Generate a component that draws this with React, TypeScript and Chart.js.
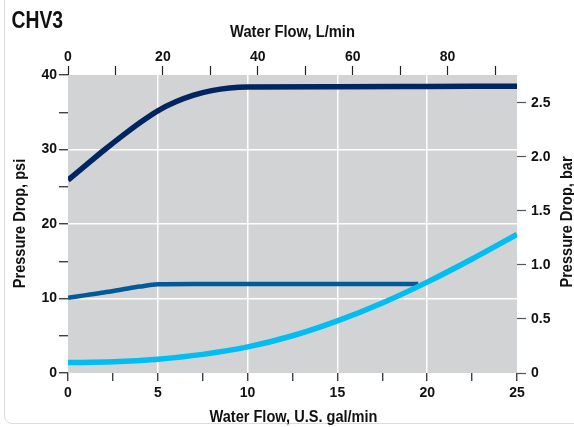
import React, { useEffect, useRef } from "react";
import { Chart, registerables } from "chart.js";

Chart.register(...registerables);

const chartTitle = "CHV3";
const xTitleBottom = "Water Flow, U.S. gal/min";
const xTitleTop = "Water Flow, L/min";
const yTitleLeft = "Pressure Drop, psi";
const yTitleRight = "Pressure Drop, bar";

// gal/min -> psi
const darkX = [0, 1, 2, 3, 4, 5, 6, 7, 8, 9, 10, 15, 20, 25];
const darkY = [25.9, 27.9, 29.9, 31.8, 33.6, 35.2, 36.4, 37.3, 37.9, 38.25, 38.38, 38.42, 38.46, 38.5];

const midX = [0, 1, 2, 3, 4, 5, 7, 10, 15, 19.5];
const midY = [10.1, 10.45, 10.8, 11.2, 11.6, 11.9, 11.95, 11.95, 11.95, 11.95];

const cyanX = [0, 2.5, 5, 7.5, 10, 12.5, 15, 17.5, 20, 22.5, 25];
const cyanY = [1.4, 1.5, 1.85, 2.5, 3.5, 5.0, 7.0, 9.4, 12.2, 15.3, 18.6];

const GAL_TO_L = 3.78541;
const PSI_PER_BAR = 14.5038;
const X_MAX = 25;
const Y_MAX = 40;

const TITLE_FONT = '"Liberation Sans", Arial, sans-serif';
const TICK_FONT = '"Liberation Sans", Arial, sans-serif';

const toPts = (xs: number[], ys: number[]) => xs.map((x, i) => ({ x, y: ys[i] }));

export default function App() {
  const ref = useRef<HTMLCanvasElement | null>(null);

  useEffect(() => {
    if (!ref.current) return;
    const bgPlugin = {
      id: "bg",
      beforeDraw(chart: any) {
        const { ctx, chartArea: a } = chart;
        ctx.save();
        ctx.fillStyle = "#d2d3d5";
        ctx.fillRect(a.left, a.top, a.right - a.left, a.bottom - a.top);
        ctx.restore();
      },
    };
    const drawNarrow = (ctx: any, text: string, x: number, y: number, rot: number, size: number, sx: number) => {
      ctx.save();
      ctx.translate(x, y);
      ctx.rotate(rot);
      ctx.scale(sx, 1);
      ctx.font = `bold ${size}px ${TITLE_FONT}`;
      ctx.fillText(text, 0, 0);
      ctx.restore();
    };
    const textPlugin = {
      id: "texts",
      afterDraw(chart: any) {
        const { ctx } = chart;
        ctx.save();
        ctx.fillStyle = "#111";
        ctx.textBaseline = "alphabetic";
        ctx.textAlign = "left";
        drawNarrow(ctx, chartTitle, 11.5, 28.3, 0, 23, 0.84);
        ctx.textAlign = "center";
        drawNarrow(ctx, xTitleTop, 292.5, 36.7, 0, 16, 0.92);
        drawNarrow(ctx, xTitleBottom, 293.5, 421.7, 0, 16, 0.91);
        drawNarrow(ctx, yTitleLeft, 25, 223.5, -Math.PI / 2, 16, 0.91);
        drawNarrow(ctx, yTitleRight, 571.5, 222, -Math.PI / 2, 16, 0.91);
        ctx.restore();
      },
    };
    const tickFont = { family: TICK_FONT, size: 14, weight: "bold" as const };
    const chart = new Chart(ref.current, {
      type: "line",
      data: {
        datasets: [
          {
            data: toPts(cyanX, cyanY),
            borderColor: "#00bdf2",
            borderWidth: 5.5,
            pointRadius: 0,
            cubicInterpolationMode: "monotone",
            xAxisID: "x",
            yAxisID: "y",
          },
          {
            data: toPts(midX, midY),
            borderColor: "#035a98",
            borderWidth: 4.5,
            pointRadius: 0,
            cubicInterpolationMode: "monotone",
            xAxisID: "x",
            yAxisID: "y",
          },
          {
            data: toPts(darkX, darkY),
            borderColor: "#002560",
            borderWidth: 5.5,
            pointRadius: 0,
            cubicInterpolationMode: "monotone",
            xAxisID: "x",
            yAxisID: "y",
          },
        ],
      },
      options: {
        animation: false,
        responsive: false,
        layout: { padding: 0 },
        plugins: { legend: { display: false }, tooltip: { enabled: false }, title: { display: false } },
        scales: {
          x: {
            type: "linear",
            position: "bottom",
            min: 0,
            max: X_MAX,
            border: { display: false },
            grid: {
              color: (c: any) => {
                const v = c.tick ? c.tick.value : 0;
                return v > 0 && v < X_MAX && Math.abs(v % 5) < 1e-6 ? "#ffffff" : "rgba(0,0,0,0)";
              },
              lineWidth: 1.5,
              tickColor: "#222",
              tickLength: 8,
              tickWidth: 1.2,
            },
            ticks: {
              stepSize: 2.5,
              autoSkip: false,
              maxRotation: 0,
              includeBounds: false,
              padding: 4,
              color: "#111",
              font: tickFont,
              callback: (v: any) => (Math.abs(Number(v) % 5) < 1e-6 ? String(v) : ""),
            },
            afterFit: (s: any) => {
              s.height = 54;
            },
          },
          xTop: {
            type: "linear",
            position: "top",
            min: 0,
            max: X_MAX * GAL_TO_L,
            border: { display: false },
            grid: { drawOnChartArea: false, tickColor: "#222", tickLength: 9, tickWidth: 1.2 },
            ticks: {
              stepSize: 10,
              autoSkip: false,
              maxRotation: 0,
              includeBounds: false,
              padding: 0,
              color: "#111",
              font: tickFont,
              callback: (v: any) => (Math.round(Number(v)) % 20 === 0 ? String(Math.round(Number(v))) : ""),
            },
            afterFit: (s: any) => {
              s.height = 75;
            },
          },
          y: {
            type: "linear",
            position: "left",
            min: 0,
            max: Y_MAX,
            border: { display: false },
            grid: {
              color: (c: any) => {
                const v = c.tick ? c.tick.value : 0;
                return v > 0 && v < Y_MAX && v % 10 === 0 ? "#ffffff" : "rgba(0,0,0,0)";
              },
              lineWidth: 1.5,
              tickColor: "#222",
              tickLength: 9,
              tickWidth: 1.2,
            },
            ticks: {
              stepSize: 5,
              autoSkip: false,
              includeBounds: false,
              padding: 2,
              color: "#111",
              font: tickFont,
              callback: (v: any) => (Number(v) % 10 === 0 ? String(v) : ""),
            },
            afterFit: (s: any) => {
              s.width = 68;
            },
          },
          yRight: {
            type: "linear",
            position: "right",
            min: 0,
            max: Y_MAX / PSI_PER_BAR,
            border: { display: false },
            grid: { drawOnChartArea: false, tickColor: "#555", tickLength: 9, tickWidth: 1.2 },
            ticks: {
              stepSize: 0.5,
              autoSkip: false,
              includeBounds: false,
              padding: 5,
              color: "#111",
              font: tickFont,
              callback: (v: any) => (Number(v) === 0 ? "0" : Number(v).toFixed(1)),
            },
            afterFit: (s: any) => {
              s.width = 57;
            },
          },
        },
      } as any,
      plugins: [bgPlugin, textPlugin],
    });
    return () => chart.destroy();
  }, []);

  return (
    <div style={{ position: "fixed", left: 0, top: 0, width: 574, height: 427, background: "#fff", overflow: "hidden" }}>
      <div
        style={{
          position: "absolute",
          left: 4,
          top: -20,
          width: 700,
          height: 444,
          boxSizing: "border-box",
          border: "1px solid #dcdcdc",
          borderRadius: 8,
        }}
      />
      <canvas ref={ref} width={574} height={427} style={{ position: "absolute", left: 0, top: 0, width: 574, height: 427 }} />
    </div>
  );
}
